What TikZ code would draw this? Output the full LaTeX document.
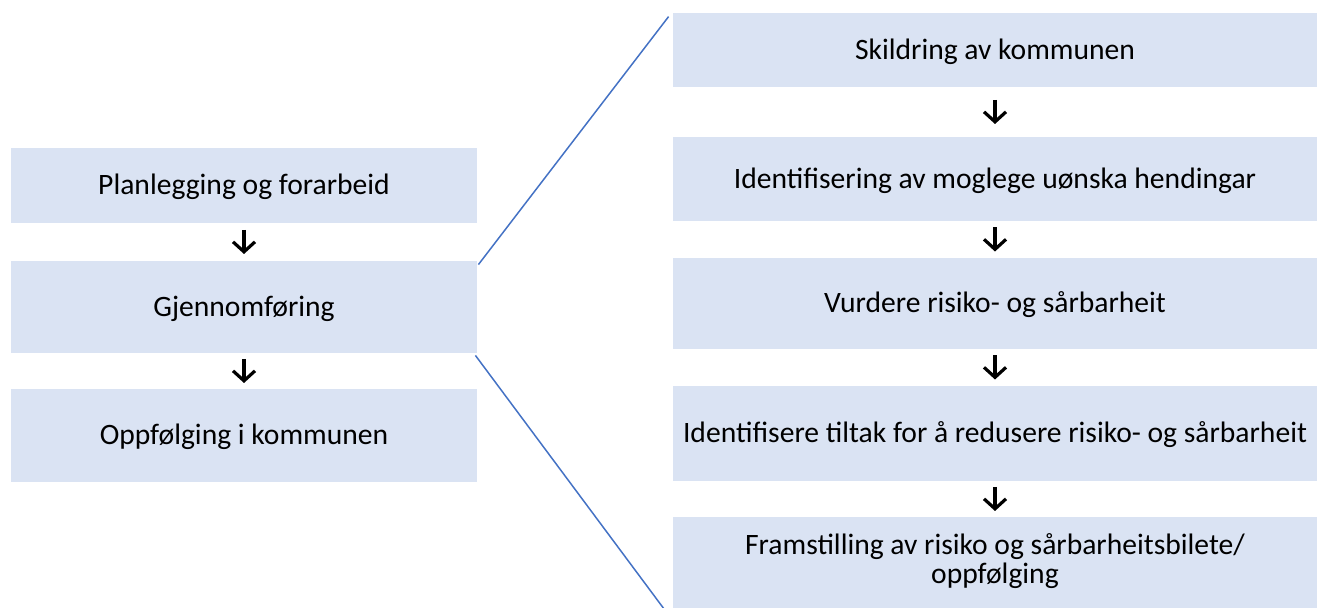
\documentclass[tikz,border=0pt]{standalone}
\usepackage{fontspec}
\setmainfont{Carlito}
\usetikzlibrary{arrows.meta,calc}
\definecolor{boxfill}{HTML}{DAE3F3}
\definecolor{linkblue}{HTML}{4472C4}
\begin{document}
\begin{tikzpicture}[x=0.5pt,y=-0.5pt,
  stepbox/.style={rectangle, fill=boxfill, draw=none, inner sep=0pt,
    font=\fontsize{14.8pt}{14.6pt}\selectfont, text height=9.5pt, text depth=0pt, align=center},
  leftbox/.style={stepbox, minimum width=233pt},
  rightbox/.style={stepbox, minimum width=322pt},
  flowarrow/.style={line width=1.6pt, -{Straight Barb[length=5pt,width=11pt,line width=1.6pt]}},
  zoomline/.style={draw=linkblue, line width=0.75pt}]
\useasboundingbox (0,0) rectangle (1317,608);
% left column
\node[leftbox, minimum height=37.5pt] (l1) at (244,185.5) {Planlegging og forarbeid};
\node[leftbox, minimum height=46pt]   (l2) at (244,307)   {Gjennomføring};
\node[leftbox, minimum height=46.5pt] (l3) at (244,435.5) {Oppfølging i kommunen};
% right column
\node[rightbox, minimum height=37pt]   (r1) at (995,50)    {Skildring av kommunen};
\node[rightbox, minimum height=42pt]   (r2) at (995,179)   {Identifisering av moglege uønska hendingar};
\node[rightbox, minimum height=45.5pt] (r3) at (995,303.5) {Vurdere risiko- og sårbarheit};
\node[rightbox, minimum height=47.5pt] (r4) at (995,433.5) {Identifisere tiltak for å redusere risiko- og sårbarheit};
\node[rightbox, minimum height=45.5pt, text height=21.5pt, text depth=0pt] (r5) at (995,562.5) {Framstilling av risiko og sårbarheitsbilete/\\oppfølging};
% arrows
\foreach \a/\b in {l1/l2, l2/l3, r1/r2, r2/r3, r3/r4, r4/r5}{
  \draw[flowarrow] ($(\a.south)!0.5!(\b.north)+(0,-12)$) -- ($(\a.south)!0.5!(\b.north)+(0,12)$);
}
% zoom lines
\draw[zoomline] ($(l2.north east)+(1,4)$) -- ($(r1.north west)+(-4,4)$);
\draw[zoomline] ($(l2.south east)+(-2,2)$) -- ($(r5.south west)+(-9,0)$);
\end{tikzpicture}
\end{document}
